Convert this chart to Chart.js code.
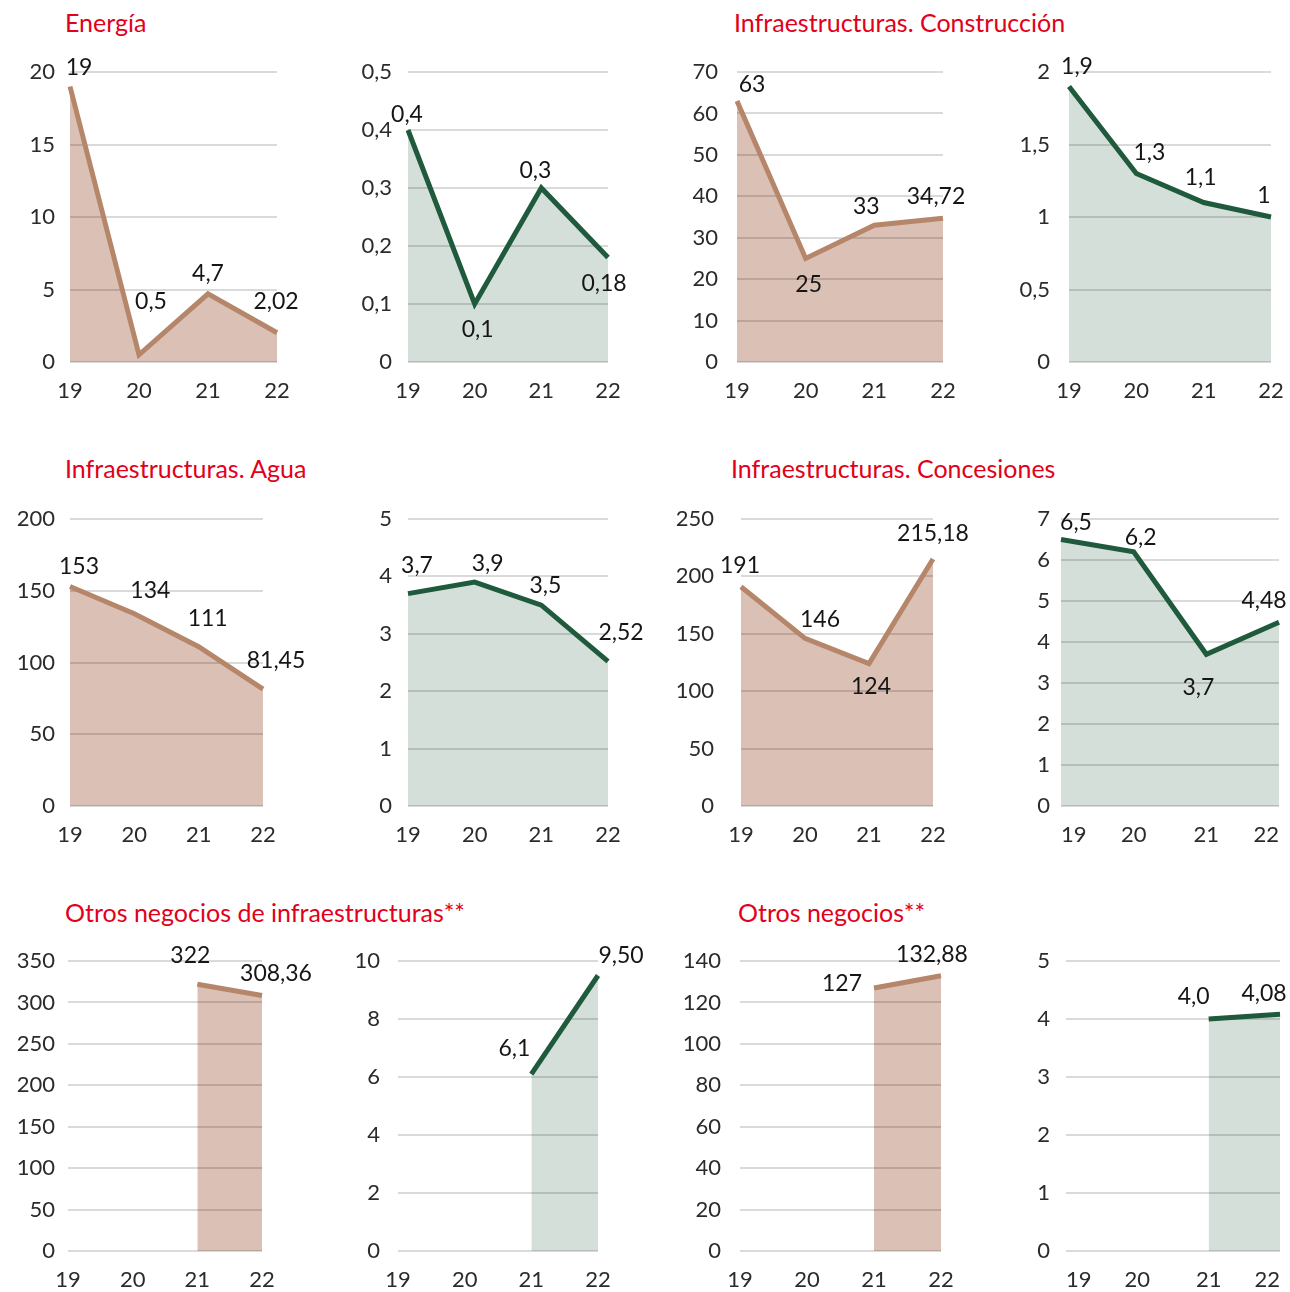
<!DOCTYPE html>
<html lang="es">
<head>
<meta charset="utf-8">
<title>Evolución por negocio</title>
<script src="https://cdn.jsdelivr.net/npm/chart.js@4.4.1/dist/chart.umd.min.js"></script>
<style>
  html, body { margin: 0; padding: 0; background: #ffffff; overflow: hidden; }
  body { width: 1290px; height: 1292px; position: relative; font-family: Lato, "Noto Sans", sans-serif; }
  .titulo { position: absolute; color: #e2001a; font-size: 25px; line-height: 28px; white-space: nowrap; }
  canvas { position: absolute; }
</style>
</head>
<body>
<div class="titulo" style="left:65px; top:8px;">Energía</div>
<div class="titulo" style="left:734px; top:8px;">Infraestructuras. Construcción</div>
<div class="titulo" style="left:65px; top:454px;">Infraestructuras. Agua</div>
<div class="titulo" style="left:731px; top:454px;">Infraestructuras. Concesiones</div>
<div class="titulo" style="left:65px; top:898px;">Otros negocios de infraestructuras**</div>
<div class="titulo" style="left:738px; top:898px;">Otros negocios**</div>

<script>
// Años del eje horizontal
const anios = ['19', '20', '21', '22'];

// Serie marrón (izquierda) y serie verde (derecha) de cada negocio, con sus decimales
const energiaMarron = [19, 0.5, 4.7, 2.02];
const energiaMarronDec = [0, 1, 1, 2];
const energiaVerde = [0.4, 0.1, 0.3, 0.18];
const energiaVerdeDec = [1, 1, 1, 2];

const construccionMarron = [63, 25, 33, 34.72];
const construccionMarronDec = [0, 0, 0, 2];
const construccionVerde = [1.9, 1.3, 1.1, 1];
const construccionVerdeDec = [1, 1, 1, 0];

const aguaMarron = [153, 134, 111, 81.45];
const aguaMarronDec = [0, 0, 0, 2];
const aguaVerde = [3.7, 3.9, 3.5, 2.52];
const aguaVerdeDec = [1, 1, 1, 2];

const concesionesMarron = [191, 146, 124, 215.18];
const concesionesMarronDec = [0, 0, 0, 2];
const concesionesVerde = [6.5, 6.2, 3.7, 4.48];
const concesionesVerdeDec = [1, 1, 1, 2];

const otrosInfraMarron = [null, null, 322, 308.36];
const otrosInfraMarronDec = [0, 0, 0, 2];
const otrosInfraVerde = [null, null, 6.1, 9.5];
const otrosInfraVerdeDec = [0, 0, 1, 2];

const otrosMarron = [null, null, 127, 132.88];
const otrosMarronDec = [0, 0, 0, 2];
const otrosVerde = [null, null, 4.0, 4.08];
const otrosVerdeDec = [0, 0, 1, 2];

// Escalas del eje vertical: [máximo, paso]
const energiaMarronEje = [20, 5];
const energiaVerdeEje = [0.5, 0.1];
const construccionMarronEje = [70, 10];
const construccionVerdeEje = [2, 0.5];
const aguaMarronEje = [200, 50];
const aguaVerdeEje = [5, 1];
const concesionesMarronEje = [250, 50];
const concesionesVerdeEje = [7, 1];
const otrosInfraMarronEje = [350, 50];
const otrosInfraVerdeEje = [10, 2];
const otrosMarronEje = [140, 20];
const otrosVerdeEje = [5, 1];

// Colores
const MARRON = { linea: '#b5866a', relleno: '#dbc1b5' };
const VERDE = { linea: '#1f5a3c', relleno: '#d5dfd9' };

// Composición de los paneles: zona de trazado [izq, der, arriba, abajo],
// separación de las cifras del eje vertical, alineación de los años y
// desplazamiento de cada etiqueta de valor
const paneles = [
  { datos: energiaMarron, dec: energiaMarronDec, eje: energiaMarronEje, color: MARRON, sep: 15,
    area: [70, 277, 72, 362], off: [[9, -19], [12, -53], [0, -20], [-1, -31]] },
  { datos: energiaVerde, dec: energiaVerdeDec, eje: energiaVerdeEje, color: VERDE, sep: 16,
    area: [408, 608, 72, 362], off: [[-1, -15], [3, 26], [-6, -17], [-4, 26]] },
  { datos: construccionMarron, dec: construccionMarronDec, eje: construccionMarronEje, color: MARRON, sep: 19,
    area: [737, 943, 72, 362], off: [[15, -16], [3, 26], [-8, -19], [-7, -22]] },
  { datos: construccionVerde, dec: construccionVerdeDec, eje: construccionVerdeEje, color: VERDE, sep: 19,
    area: [1069, 1271, 72, 362], off: [[8, -20], [13, -21], [-3, -25], [-7, -21]] },

  { datos: aguaMarron, dec: aguaMarronDec, eje: aguaMarronEje, color: MARRON, sep: 15,
    area: [70, 263, 519, 806], off: [[9, -20], [16, -23], [9, -28], [13, -29]] },
  { datos: aguaVerde, dec: aguaVerdeDec, eje: aguaVerdeEje, color: VERDE, sep: 16,
    area: [408, 608, 519, 806], off: [[9, -28], [13, -19], [4, -20], [13, -29]] },
  { datos: concesionesMarron, dec: concesionesMarronDec, eje: concesionesMarronEje, color: MARRON, sep: 27,
    area: [741, 933, 519, 806], off: [[-1, -21], [15, -19], [2, 23], [0, -25]] },
  { datos: concesionesVerde, dec: concesionesVerdeDec, eje: concesionesVerdeEje, color: VERDE, sep: 11,
    area: [1061, 1279, 519, 806], off: [[15, -17], [7, -14], [-8, 33], [-15, -22]], alin: 'inner' },

  { datos: otrosInfraMarron, dec: otrosInfraMarronDec, eje: otrosInfraMarronEje, color: MARRON, sep: 13,
    area: [68, 262, 961, 1251], off: [null, null, [-7, -29], [14, -22]] },
  { datos: otrosInfraVerde, dec: otrosInfraVerdeDec, eje: otrosInfraVerdeEje, color: VERDE, sep: 18,
    area: [398, 598, 961, 1251], off: [null, null, [-17, -26], [23, -20]] },
  { datos: otrosMarron, dec: otrosMarronDec, eje: otrosMarronEje, color: MARRON, sep: 19,
    area: [740, 941, 961, 1251], off: [null, null, [-32, -4], [-9, -21]] },
  { datos: otrosVerde, dec: otrosVerdeDec, eje: otrosVerdeEje, color: VERDE, sep: 16,
    area: [1066, 1280, 961, 1251], off: [null, null, [-15, -22], [-16, -21]], alin: 'inner' }
];

const ANCHO_EJE_Y = 75;
const ALTO_EJE_X = 41;
const MARGEN_SUP = 50;
const FUENTE = 'Lato, "Noto Sans", sans-serif';

function formatear(v, d) {
  return v.toFixed(d).replace('.', ',');
}

// Líneas de referencia dibujadas sobre el relleno y bajo la línea
const rejilla = {
  id: 'rejilla',
  beforeDatasetsDraw(chart) {
    const y = chart.scales.y;
    const a = chart.chartArea;
    const ctx = chart.ctx;
    ctx.save();
    ctx.strokeStyle = 'rgba(0,0,0,0.145)';
    ctx.lineWidth = 2;
    y.ticks.forEach(t => {
      const py = Math.round(y.getPixelForValue(t.value));
      ctx.beginPath();
      ctx.moveTo(a.left, py);
      ctx.lineTo(a.right, py);
      ctx.stroke();
    });
    ctx.restore();
  }
};

// Etiquetas con el valor de cada punto
const etiquetas = {
  id: 'etiquetas',
  afterDatasetsDraw(chart, args, opts) {
    const meta = chart.getDatasetMeta(0);
    const ds = chart.data.datasets[0];
    const ctx = chart.ctx;
    ctx.save();
    ctx.font = '23px ' + FUENTE;
    ctx.fillStyle = '#151515';
    ctx.textAlign = 'center';
    ctx.textBaseline = 'middle';
    meta.data.forEach((p, i) => {
      const v = ds.data[i];
      if (v === null || v === undefined) return;
      const o = opts.off[i] || [0, -20];
      ctx.fillText(formatear(v, opts.dec[i]), p.x + o[0], p.y + o[1]);
    });
    ctx.restore();
  }
};

paneles.forEach(pn => {
  const [izq, der, arriba, abajo] = pn.area;
  const margenDer = Math.min(60, 1290 - der);
  const canvas = document.createElement('canvas');
  const w = ANCHO_EJE_Y + (der - izq) + margenDer;
  const h = MARGEN_SUP + (abajo - arriba) + ALTO_EJE_X;
  canvas.width = w;
  canvas.height = h;
  canvas.style.width = w + 'px';
  canvas.style.height = h + 'px';
  canvas.style.left = (izq - ANCHO_EJE_Y) + 'px';
  canvas.style.top = (arriba - MARGEN_SUP) + 'px';
  document.body.appendChild(canvas);

  new Chart(canvas, {
    type: 'line',
    data: {
      labels: anios,
      datasets: [{
        data: pn.datos,
        borderColor: pn.color.linea,
        backgroundColor: pn.color.relleno,
        borderWidth: 5,
        borderJoinStyle: 'miter',
        borderCapStyle: 'butt',
        pointRadius: 0,
        tension: 0,
        spanGaps: false,
        fill: 'origin'
      }]
    },
    options: {
      responsive: false,
      animation: false,
      devicePixelRatio: 1,
      layout: { padding: { top: MARGEN_SUP, right: margenDer, left: 0, bottom: 0 } },
      plugins: {
        legend: { display: false },
        tooltip: { enabled: false },
        filler: { drawTime: 'beforeDatasetsDraw' },
        etiquetas: { off: pn.off, dec: pn.dec }
      },
      scales: {
        x: {
          offset: false,
          grid: { display: false, drawTicks: false },
          border: { display: false },
          ticks: {
            color: '#2b2b2b',
            font: { family: FUENTE, size: 22 },
            padding: 16,
            align: pn.alin || 'center',
            maxRotation: 0,
            autoSkip: false
          },
          afterFit(s) {
            s.height = ALTO_EJE_X;
            // los años pueden sobresalir por los lados sin estrechar la zona de trazado
            s.paddingLeft = 0;
            s.paddingRight = 0;
          }
        },
        y: {
          min: 0,
          max: pn.eje[0],
          grid: { display: false, drawTicks: false },
          border: { display: false },
          ticks: {
            stepSize: pn.eje[1],
            color: '#2b2b2b',
            font: { family: FUENTE, size: 22 },
            padding: pn.sep,
            callback: v => String(Math.round(v * 100) / 100).replace('.', ',')
          },
          afterFit(s) { s.width = ANCHO_EJE_Y; }
        }
      }
    },
    plugins: [rejilla, etiquetas]
  });
});
</script>
</body>
</html>
